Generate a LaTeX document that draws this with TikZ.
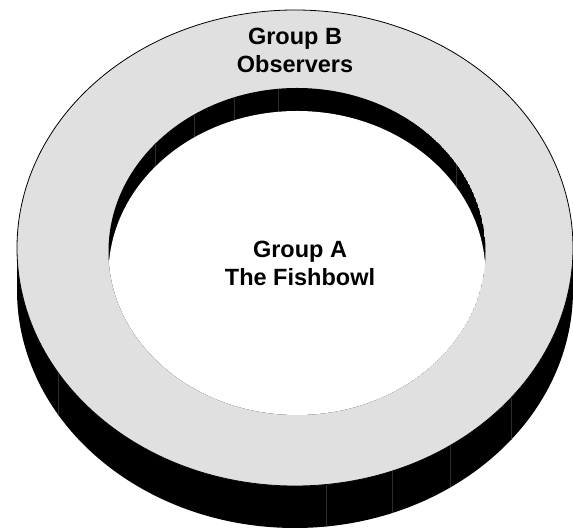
\documentclass[tikz,border=0pt]{standalone}
\usepackage{fontspec}
\setmainfont{Liberation Sans}
\definecolor{ringgray}{RGB}{224,224,224}
\begin{document}
\begin{tikzpicture}[x=1pt, y=1pt,
    label/.style={align=center, font=\fontsize{23.5}{28}\selectfont\bfseries},
    seam/.style={gray!35!black, line width=0.4pt}]
    \useasboundingbox (0,0) rectangle (573,529);
    \coordinate (outer) at (295,281);
    \coordinate (outerlow) at (295,239);
    \coordinate (inner) at (297,277.5);
    \coordinate (innerlow) at (297,254.5);
    % outer side of the ring
    \fill (17,281) -- (17,239) arc[start angle=180, end angle=360, x radius=278, y radius=238]
        -- (573,281) arc[start angle=0, end angle=-180, x radius=278, y radius=238] -- cycle;
    \begin{scope}
        \clip (17,281) -- (17,239) arc[start angle=180, end angle=360, x radius=278, y radius=238]
            -- (573,281) -- cycle;
        \foreach \x in {58,326,392,450,511}
            \draw[seam] (\x,0) -- (\x,529);
    \end{scope}
    % top face
    \fill[ringgray, draw=black, line width=0.8pt] (outer) ellipse[x radius=278, y radius=238];
    % the hole and its inner wall
    \begin{scope}
        \clip (inner) ellipse[x radius=188.5, y radius=163.5];
        \fill (inner) ellipse[x radius=188.5, y radius=163.5];
        \foreach \x in {155,194,234,278,456}
            \draw[seam] (\x,0) -- (\x,529);
        \fill[white] (innerlow) ellipse[x radius=188.5, y radius=163.5];
    \end{scope}
    \node[label] (groupB) at (295,479) {Group B\\Observers};
    \node[label] (groupA) at (300,266) {Group A\\The Fishbowl};
\end{tikzpicture}
\end{document}
